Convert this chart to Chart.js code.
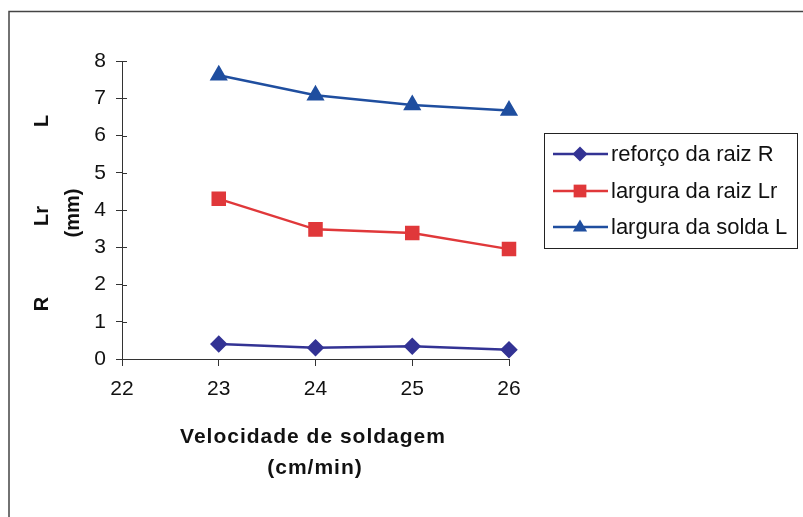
<!DOCTYPE html>
<html>
<head>
<meta charset="utf-8">
<script src="https://cdn.jsdelivr.net/npm/chart.js@4.4.1/dist/chart.umd.min.js"></script>
<style>
  body { margin: 0; background: #fff; }
  canvas { display: block; }
</style>
</head>
<body>
<canvas id="weldChart" width="803" height="517"></canvas>
<script>
// welding speed (cm/min) and measured values (mm)
var velocidade = [23, 24, 25, 26];
var reforcoRaiz = [0.40, 0.30, 0.34, 0.25];   // R
var larguraRaiz = [4.30, 3.48, 3.38, 2.95];   // Lr
var larguraSolda = [7.62, 7.08, 6.82, 6.67];  // L
var xTicks = [22, 23, 24, 25, 26];
var yTicks = [0, 1, 2, 3, 4, 5, 6, 7, 8];

function toPoints(vals) {
    return velocidade.map(function(v, i) { return { x: v, y: vals[i] }; });
}

function drawMarker(ctx, style, x, y, r, color) {
    ctx.save();
    ctx.fillStyle = color;
    ctx.beginPath();
    if (style === 'triangle') {
        ctx.moveTo(x, y - r);
        ctx.lineTo(x + r * 0.95, y + r * 0.6);
        ctx.lineTo(x - r * 0.95, y + r * 0.6);
    } else if (style === 'rect') {
        ctx.rect(x - r * 0.85, y - r * 0.85, r * 1.7, r * 1.7);
    } else {
        ctx.moveTo(x, y - r);
        ctx.lineTo(x + r, y);
        ctx.lineTo(x, y + r);
        ctx.lineTo(x - r, y);
    }
    ctx.closePath();
    ctx.fill();
    ctx.restore();
}

// frame, titles, inner ticks and the boxed legend
var extras = {
    id: 'extras',
    beforeDraw: function(chart) {
        var ctx = chart.ctx;
        ctx.save();
        ctx.fillStyle = '#fff';
        ctx.fillRect(0, 0, chart.width, chart.height);
        ctx.strokeStyle = '#444';
        ctx.lineWidth = 1.5;
        ctx.beginPath();
        ctx.moveTo(9, chart.height);
        ctx.lineTo(9, 11.5);
        ctx.lineTo(chart.width, 11.5);
        ctx.stroke();
        ctx.restore();
    },
    afterDraw: function(chart) {
        var ctx = chart.ctx;
        var ys = chart.scales.y;
        ctx.save();
        // small tick stubs inside the plot, Excel style
        ctx.strokeStyle = '#333';
        ctx.lineWidth = 1;
        yTicks.forEach(function(t) {
            var py = Math.round(ys.getPixelForValue(t)) + 0.5;
            ctx.beginPath();
            ctx.moveTo(ys.right, py);
            ctx.lineTo(ys.right + 5, py);
            ctx.stroke();
        });

        ctx.fillStyle = '#111';
        ctx.textAlign = 'center';
        ctx.textBaseline = 'middle';
        ctx.font = 'bold 21px "Liberation Sans", Arial, sans-serif';
        ctx.letterSpacing = '1px';
        ctx.fillText('Velocidade de soldagem', 313, 437);
        ctx.fillText('(cm/min)', 315, 468);
        ctx.letterSpacing = '0px';

        ctx.font = 'bold 20px "Liberation Sans", Arial, sans-serif';
        [['(mm)', 73, 213], ['L', 42, 121], ['Lr', 42, 216], ['R', 42, 304]].forEach(function(t) {
            ctx.save();
            ctx.translate(t[1], t[2]);
            ctx.rotate(-Math.PI / 2);
            ctx.fillText(t[0], 0, 0);
            ctx.restore();
        });

        // legend
        ctx.strokeStyle = '#222';
        ctx.lineWidth = 1;
        ctx.strokeRect(544.5, 133.5, 253, 115);
        ctx.font = '22px "Liberation Sans", Arial, sans-serif';
        ctx.textAlign = 'left';
        var rows = [154, 191, 227];
        chart.data.datasets.forEach(function(ds, i) {
            var y = rows[i];
            ctx.strokeStyle = ds.borderColor;
            ctx.lineWidth = 2.5;
            ctx.beginPath();
            ctx.moveTo(553, y);
            ctx.lineTo(608, y);
            ctx.stroke();
            drawMarker(ctx, ds.pointStyle, 580, y, 7.5, ds.borderColor);
            ctx.fillStyle = '#111';
            ctx.fillText(ds.label, 611, y + 1);
        });
        ctx.restore();
    }
};

new Chart(document.getElementById('weldChart').getContext('2d'), {
    type: 'line',
    data: {
        datasets: [{
            label: 'reforço da raiz R',
            data: toPoints(reforcoRaiz),
            borderColor: '#333394',
            backgroundColor: '#333394',
            pointStyle: 'rectRot',
            pointRadius: 7,
            borderWidth: 2.5,
            clip: false
        }, {
            label: 'largura da raiz Lr',
            data: toPoints(larguraRaiz),
            borderColor: '#e0383a',
            backgroundColor: '#e0383a',
            pointStyle: 'rect',
            pointRadius: 8.5,
            borderWidth: 2.5,
            clip: false
        }, {
            label: 'largura da solda L',
            data: toPoints(larguraSolda),
            borderColor: '#1f4e9f',
            backgroundColor: '#1f4e9f',
            pointStyle: 'triangle',
            pointRadius: 8,
            borderWidth: 2.5,
            clip: false
        }]
    },
    options: {
        responsive: false,
        animation: false,
        layout: { padding: { left: 10, top: 61, right: 294, bottom: 0 } },
        plugins: {
            legend: { display: false },
            tooltip: { enabled: false }
        },
        scales: {
            x: {
                type: 'linear',
                min: 22,
                max: 26,
                afterBuildTicks: function(s) { s.ticks = xTicks.map(function(v) { return { value: v }; }); },
                afterFit: function(s) { s.height = 158; },
                ticks: { color: '#111', padding: 11, font: { size: 21, family: '"Liberation Sans", Arial' } },
                grid: { drawOnChartArea: false, tickLength: 7, color: '#333' },
                border: { color: '#333', width: 1 }
            },
            y: {
                min: 0,
                max: 8,
                afterBuildTicks: function(s) { s.ticks = yTicks.map(function(v) { return { value: v }; }); },
                afterFit: function(s) { s.width = 112; },
                ticks: { color: '#111', padding: 10, font: { size: 21, family: '"Liberation Sans", Arial' } },
                grid: { drawOnChartArea: false, tickLength: 6, color: '#333' },
                border: { color: '#333', width: 1 }
            }
        }
    },
    plugins: [extras]
});
</script>
</body>
</html>
